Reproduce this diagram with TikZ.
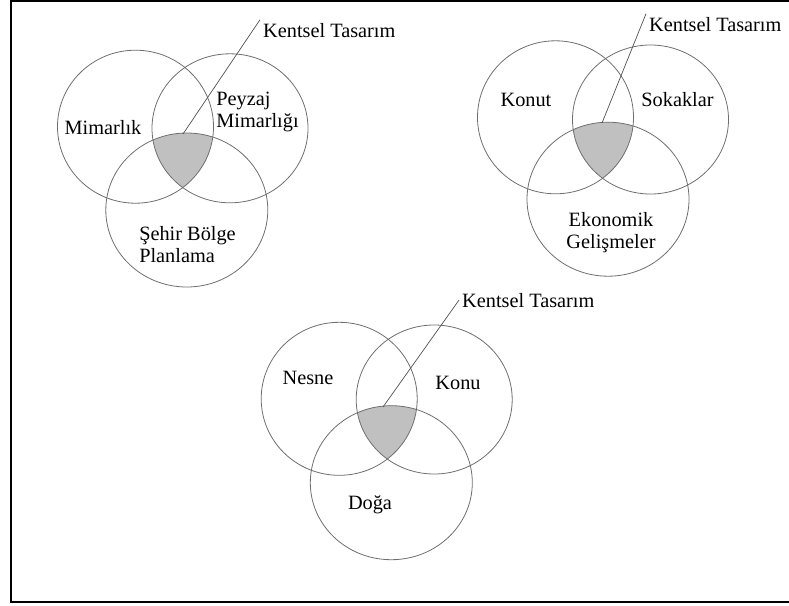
\documentclass[tikz,border=0pt]{standalone}
\usepackage{fontspec}
\setmainfont{Liberation Serif}
\usetikzlibrary{calc}
\definecolor{RingGrey}{HTML}{6E6E6E}
\definecolor{CoreFill}{HTML}{C0C0C0}
\definecolor{LeadGrey}{HTML}{505050}

\begin{document}
\begin{tikzpicture}[x=1pt, y=-1pt,
  ring/.style={draw=RingGrey, line width=0.8pt},
  ringa/.style={x radius=78pt, y radius=76.5pt},
  ringb/.style={x radius=78pt, y radius=74.5pt},
  ringc/.style={x radius=81pt, y radius=77pt},
  lbl/.style={font=\fontsize{20.3}{22}\selectfont, inner sep=0pt, align=left},
  kt/.style={font=\fontsize{20.3}{22}\selectfont, inner sep=3pt, anchor=base west},
  lead/.style={draw=LeadGrey, line width=0.7pt}]
  \useasboundingbox (0,0) rectangle (789,605);
  % frame, open on the right
  \draw[line width=2pt] (789,1) -- (11,1) -- (11,601.5) -- (789,601.5);

  % set 1
  \coordinate (mim) at (135.5,126.7);
  \coordinate (pey) at (230,128.3);
  \coordinate (seh) at (186.8,210);
  \begin{scope}
    \clip (mim) ellipse[ringa];
    \clip (pey) ellipse[ringb];
    \fill[CoreFill] (seh) ellipse[ringc];
  \end{scope}
  \draw[ring] (mim) ellipse[ringa];
  \draw[ring] (pey) ellipse[ringb];
  \draw[ring] (seh) ellipse[ringc];
  \node[lbl] (mimt) at (103,128) {Mimarlık};
  \node[lbl] (peyt) at (257.5,111.5) {Peyzaj\\Mimarlığı};
  \node[lbl] (seht) at (187.5,244.5) {Şehir Bölge\\Planlama};
  \node[kt] (kt1) at (260,37) {Kentsel Tasarım};
  \coordinate (core1) at (183,134);
  \draw[lead] (core1) -- (kt1.north west);

  % set 2
  \coordinate (kon) at (555.5,117.3);
  \coordinate (sok) at (650.5,119.5);
  \coordinate (eko) at (608,199.2);
  \begin{scope}
    \clip (kon) ellipse[ringa];
    \clip (sok) ellipse[ringb];
    \fill[CoreFill] (eko) ellipse[ringc];
  \end{scope}
  \draw[ring] (kon) ellipse[ringa];
  \draw[ring] (sok) ellipse[ringb];
  \draw[ring] (eko) ellipse[ringc];
  \node[lbl] (kont) at (526,100) {Konut};
  \node[lbl] (sokt) at (677.5,100) {Sokaklar};
  \node[lbl, align=center] (ekot) at (611,233) {Ekonomik\\Gelişmeler};
  \node[kt] (kt2) at (646,31) {Kentsel Tasarım};
  \coordinate (core2) at (602,123);
  \draw[lead] (core2) -- (kt2.north west);

  % set 3
  \coordinate (nes) at (339.2,398.8);
  \coordinate (knu) at (434.2,399.5);
  \coordinate (dog) at (391.3,482.7);
  \begin{scope}
    \clip (nes) ellipse[ringa];
    \clip (knu) ellipse[ringb];
    \fill[CoreFill] (dog) ellipse[ringc];
  \end{scope}
  \draw[ring] (nes) ellipse[ringa];
  \draw[ring] (knu) ellipse[ringb];
  \draw[ring] (dog) ellipse[ringc];
  \node[lbl] (nest) at (308,378) {Nesne};
  \node[lbl] (knut) at (458,383) {Konu};
  \node[lbl] (dogt) at (370,505) {Doğa};
  \node[kt] (kt3) at (459,307) {Kentsel Tasarım};
  \coordinate (core3) at (383,407);
  \draw[lead] (core3) -- (kt3.west);
\end{tikzpicture}
\end{document}
